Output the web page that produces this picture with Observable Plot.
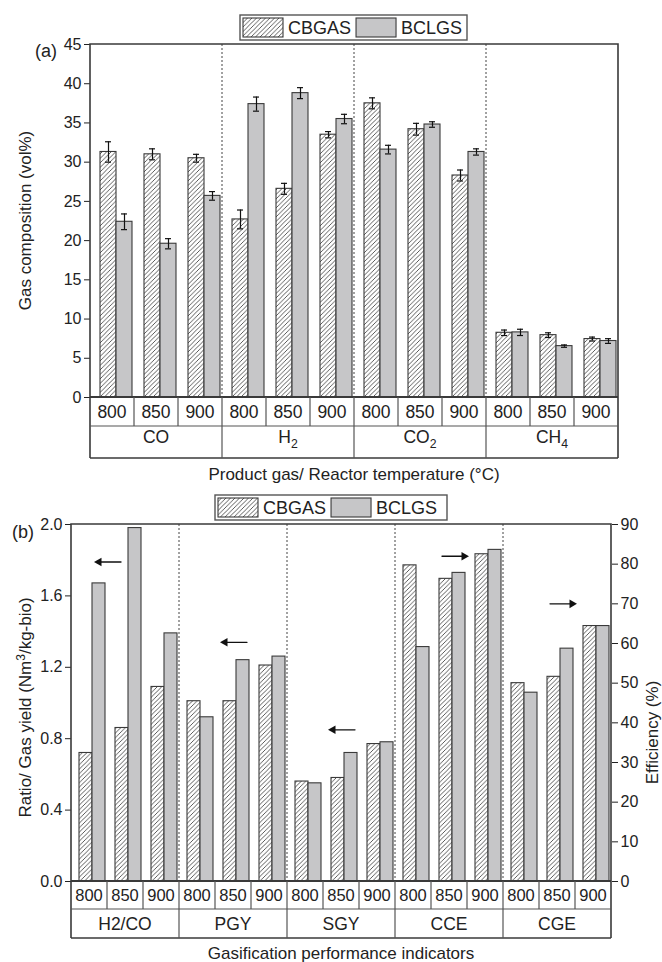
<!DOCTYPE html>
<html><head><meta charset="utf-8">
<script src="https://cdn.jsdelivr.net/npm/d3@7"></script>
<script src="https://cdn.jsdelivr.net/npm/@observablehq/plot@0.6"></script>
<style>
body{margin:0;background:#fff;font-family:"Liberation Sans",Arial,Helvetica,sans-serif;}
#root{position:relative;width:662px;height:962px;overflow:hidden;}
#root svg{display:block;overflow:visible;}
</style></head><body>
<svg width="0" height="0" style="position:absolute"><defs>
<pattern id="hatch" patternUnits="userSpaceOnUse" width="4.5" height="4.5">
<rect width="4.5" height="4.5" fill="#fff"/>
<path d="M-1,1 l2,-2 M0,4.5 l4.5,-4.5 M3.5,5.5 l2,-2" stroke="#333" stroke-width="0.8"/>
</pattern></defs></svg>
<div id="root"></div>
<script>
// ---------- data ----------
const series = ["CBGAS", "BCLGS"];
const temps = ["800", "850", "900"];

// Panel (a): gas composition (vol%)
const gasesA = ["CO", "H2", "CO2", "CH4"];
const cbgasA    = [31.3, 31.0, 30.5, 22.7, 26.6, 33.5, 37.5, 34.2, 28.3, 8.25, 7.95, 7.45];
const cbgasErrA = [1.3, 0.7, 0.5, 1.2, 0.7, 0.4, 0.7, 0.75, 0.7, 0.35, 0.3, 0.25];
const bclgsA    = [22.4, 19.6, 25.7, 37.4, 38.8, 35.5, 31.6, 34.8, 31.3, 8.3, 6.55, 7.2];
const bclgsErrA = [1.0, 0.65, 0.55, 0.9, 0.7, 0.6, 0.55, 0.35, 0.4, 0.4, 0.15, 0.3];
const yTicksA = [0, 5, 10, 15, 20, 25, 30, 35, 40, 45];

// Panel (b): gasification performance indicators
const indicatorsB = ["H2/CO", "PGY", "SGY", "CCE", "CGE"];
const indicatorAxisB = ["left", "left", "left", "right", "right"];
const cbgasB = [0.72, 0.86, 1.09, 1.01, 1.01, 1.21, 0.56, 0.58, 0.77, 79.7, 76.3, 82.5, 50.0, 51.6, 64.4];
const bclgsB = [1.67, 1.98, 1.39, 0.92, 1.24, 1.26, 0.55, 0.72, 0.78, 59.1, 77.8, 83.6, 47.6, 58.7, 64.4];
const leftTicksB = [0, 0.4, 0.8, 1.2, 1.6, 2.0];
const rightTicksB = [0, 10, 20, 30, 40, 50, 60, 70, 80, 90];
const rightMaxB = 90, leftMaxB = 2.0;
// arrows: which axis each group refers to
const arrowIndicators = ["H2/CO", "PGY", "SGY", "CCE", "CGE"];
const arrowTemps      = ["850", "850", "850", "850", "850"];
const arrowValues     = [1.79, 1.34, 0.85, 82, 70];
const arrowDirs       = ["left", "left", "left", "right", "right"];

// ---------- helpers ----------
const FONT = '"Liberation Sans", Arial, Helvetica, sans-serif';
const key = (g, t) => g + "|" + t;
const ratioB = rightMaxB / leftMaxB;

const cellsA = gasesA.flatMap(g => temps.map(t => key(g, t)));
const rowsA = [];
gasesA.forEach((g, gi) => temps.forEach((t, ti) => {
  const i = gi * 3 + ti;
  rowsA.push({cell: key(g, t), series: "CBGAS", value: cbgasA[i], err: cbgasErrA[i]});
  rowsA.push({cell: key(g, t), series: "BCLGS", value: bclgsA[i], err: bclgsErrA[i]});
}));

const cellsB = indicatorsB.flatMap(g => temps.map(t => key(g, t)));
const rowsB = [];
indicatorsB.forEach((g, gi) => temps.forEach((t, ti) => {
  const i = gi * 3 + ti;
  const s = indicatorAxisB[gi] === "right" ? 1 / ratioB : 1;
  rowsB.push({cell: key(g, t), series: "CBGAS", value: cbgasB[i] * s});
  rowsB.push({cell: key(g, t), series: "BCLGS", value: bclgsB[i] * s});
}));
const arrowsB = arrowIndicators.map((g, i) => ({
  cell: key(g, arrowTemps[i]),
  value: indicatorAxisB[indicatorsB.indexOf(g)] === "right" ? arrowValues[i] / ratioB : arrowValues[i],
  dir: arrowDirs[i], group: g
}));

const hasAxisMarks = typeof Plot.axisY === "function";
const root = document.getElementById("root");

function barMarks(rows) {
  return [
    Plot.barY(rows, {filter: d => d.series === "CBGAS", fx: "cell", x: "series", y: "value",
      fill: "url(#hatch)", stroke: "#3a3a3a", strokeWidth: 1.1}),
    Plot.barY(rows, {filter: d => d.series === "BCLGS", fx: "cell", x: "series", y: "value",
      fill: "#c6c6c8", stroke: "#3a3a3a", strokeWidth: 1.1})
  ];
}

function addLine(g, x1, y1, x2, y2, stroke, sw, dash) {
  const l = g.append("line").attr("x1", x1).attr("y1", y1).attr("x2", x2).attr("y2", y2)
    .attr("stroke", stroke).attr("stroke-width", sw);
  if (dash) l.attr("stroke-dasharray", dash);
  return l;
}

function addText(g, x, y, size, anchor) {
  return g.append("text").attr("x", x).attr("y", y).attr("text-anchor", anchor || "start")
    .attr("font-size", size).attr("font-family", FONT).attr("fill", "#222");
}

function addLabel(g, x, y, label, size, subscriptDigits) {
  const t = addText(g, x, y, size, "middle");
  if (!subscriptDigits) { t.text(label); return t; }
  const parts = label.match(/[A-Za-z]+|\d+/g);
  parts.forEach(p => {
    if (/^\d+$/.test(p)) t.append("tspan").attr("font-size", size * 0.7).attr("dy", 5).text(p);
    else t.append("tspan").attr("dy", t.selectAll("tspan").size() ? -5 : 0).text(p);
  });
  return t;
}

function decorate(svg, plot, groups, o) {
  const fx = plot.scale("fx"), y = plot.scale("y");
  const bw = fx.bandwidth;
  const y0 = y.apply(0), yTop = y.apply(o.yMax);
  const cells = groups.flatMap(g => temps.map(t => key(g, t)));
  const left = fx.apply(cells[0]), right = fx.apply(cells[cells.length - 1]) + bw;
  const r1 = y0 + o.row1, r2 = y0 + o.row2;
  const g = d3.select(svg).append("g");
  const lc = "#3a3a3a";
  groups.slice(1).forEach(gr => addLine(g, fx.apply(key(gr, temps[0])), yTop, fx.apply(key(gr, temps[0])), y0, "#444", 1, "2,2"));
  g.append("path").attr("d", `M${left},${r2}V${yTop}H${right}V${r2}`).attr("fill", "none")
    .attr("stroke", lc).attr("stroke-width", 1.6);
  addLine(g, left, y0, right, y0, lc, 1.8);
  addLine(g, left, r1, right, r1, "#555", 1.2);
  addLine(g, left, r2, right, r2, lc, 1.5);
  cells.forEach((c, i) => {
    const x = fx.apply(c);
    if (i > 0) addLine(g, x, y0, x, (i % 3 === 0) ? r2 : r1, "#555", 1.2);
    addLabel(g, x + bw / 2, y0 + o.row1 / 2 + o.tempSize * 0.36, c.split("|")[1], o.tempSize, false);
  });
  groups.forEach(gr => {
    const x1 = fx.apply(key(gr, temps[0])), x2 = fx.apply(key(gr, temps[2])) + bw;
    addLabel(g, (x1 + x2) / 2, r1 + (o.row2 - o.row1) / 2 + o.groupSize * 0.36, gr, o.groupSize, o.subscript);
  });
  return {g, left, right, y0, yTop, r2};
}

function drawLegend(g, x, y, w, h, fs) {
  g.append("rect").attr("x", x).attr("y", y).attr("width", w).attr("height", h)
    .attr("fill", "#fff").attr("stroke", "#555").attr("stroke-width", 1.4);
  const sw = 40, sh = h - 6;
  const items = [{name: "CBGAS", fill: "url(#hatch)"}, {name: "BCLGS", fill: "#c6c6c8"}];
  let cx = x + 3;
  items.forEach(it => {
    g.append("rect").attr("x", cx).attr("y", y + 3).attr("width", sw).attr("height", sh)
      .attr("fill", it.fill).attr("stroke", "#3a3a3a").attr("stroke-width", 1.1);
    const t = addText(g, cx + sw + 5, y + h / 2 + fs * 0.36, fs, "start").text(it.name);
    cx += sw + 5 + t.node().getComputedTextLength() + 5;
  });
}

// ---------- Panel (a) ----------
const styleBase = {fontFamily: FONT, fontSize: "16px", color: "#222", background: "white", overflow: "visible"};
const marksA = [
  ...barMarks(rowsA),
  Plot.ruleX(rowsA, {fx: "cell", x: "series", y1: d => d.value - d.err, y2: d => d.value + d.err, stroke: "#111", strokeWidth: 1.2}),
  Plot.tickY(rowsA, {fx: "cell", x: "series", y: d => d.value + d.err, stroke: "#111", strokeWidth: 1.2, insetLeft: 5, insetRight: 5}),
  Plot.tickY(rowsA, {fx: "cell", x: "series", y: d => d.value - d.err, stroke: "#111", strokeWidth: 1.2, insetLeft: 5, insetRight: 5})
];
if (hasAxisMarks) marksA.push(Plot.axisY(yTicksA, {anchor: "left", tickSize: 6, tickPadding: 3, label: null, tickFormat: d => d}));
const plotA = Plot.plot({
  width: 662, height: 490,
  marginLeft: 88, marginRight: 42, marginTop: 44, marginBottom: 93,
  style: styleBase,
  fx: {domain: cellsA, padding: 0, axis: null, label: null},
  x: {domain: series, paddingInner: 0, paddingOuter: 0.3, align: 0.8, axis: null},
  y: {domain: [0, 45], label: null, ...(hasAxisMarks ? {} : {ticks: yTicksA, tickFormat: d => d})},
  marks: marksA
});
root.appendChild(plotA);
const dA = decorate(plotA, plotA, gasesA, {yMax: 45, row1: 29, row2: 61, tempSize: 17.5, groupSize: 17.5, subscript: true});
const gA = d3.select(plotA).append("g");
drawLegend(gA, 240, 15, 227, 25, 18);
addText(gA, 35, 57, 18, "start").text("(a)");
gA.append("text").attr("transform", `translate(31,${(dA.y0 + dA.yTop) / 2}) rotate(-90)`).attr("text-anchor", "middle")
  .attr("font-size", 17).attr("font-family", FONT).attr("fill", "#222").text("Gas composition (vol%)");
addText(gA, (dA.left + dA.right) / 2, 480, 17, "middle").text("Product gas/ Reactor temperature (°C)");

// ---------- Panel (b) ----------
const arrowLine = (data, dx) => Plot.arrow(data, {fx: "cell",
  x1: d => d.dir === "left" ? "BCLGS" : "CBGAS", x2: d => d.dir === "left" ? "CBGAS" : "BCLGS",
  y1: "value", y2: "value", stroke: "#111", strokeWidth: 1.3, headLength: 0, insetStart: -4, insetEnd: -3, dx});
const arrowHeadL = (data, dx) => Plot.dot(data, {filter: d => d.dir === "left", fx: "cell", x: () => "CBGAS", y: "value",
  symbol: "triangle", r: 3.2, fill: "#111", stroke: "none", rotate: -90, dx: dx - 5});
const arrowHeadR = (data, dx) => Plot.dot(data, {filter: d => d.dir === "right", fx: "cell", x: () => "BCLGS", y: "value",
  symbol: "triangle", r: 3.2, fill: "#111", stroke: "none", rotate: 90, dx: dx + 5});
const firstArrow = arrowsB.filter(d => d.group === indicatorsB[0]);
const otherArrows = arrowsB.filter(d => d.group !== indicatorsB[0]);
const marksB = [
  ...barMarks(rowsB),
  arrowLine(firstArrow, -18), arrowHeadL(firstArrow, -18),
  arrowLine(otherArrows, 0), arrowHeadL(otherArrows, 0), arrowHeadR(otherArrows, 0)
];
if (hasAxisMarks) {
  marksB.push(Plot.axisY(leftTicksB, {anchor: "left", tickSize: 6, tickPadding: 3, label: null, tickFormat: d3.format(".1f")}));
  marksB.push(Plot.axisY(rightTicksB.map(v => v / ratioB), {anchor: "right", tickSize: 6, tickPadding: 3, label: null, tickFormat: d => Math.round(d * ratioB)}));
}
const plotB = Plot.plot({
  width: 662, height: 472,
  marginLeft: 68, marginRight: 49, marginTop: 34, marginBottom: 81,
  style: styleBase,
  fx: {domain: cellsB, padding: 0, axis: null, label: null},
  x: {domain: series, paddingInner: 0, paddingOuter: 0.345, align: 0.75, axis: null},
  y: {domain: [0, leftMaxB], label: null, ...(hasAxisMarks ? {} : {ticks: leftTicksB, tickFormat: d3.format(".1f")})},
  marks: marksB
});
root.appendChild(plotB);
const dB = decorate(plotB, plotB, indicatorsB, {yMax: leftMaxB, row1: 28, row2: 57, tempSize: 16.5, groupSize: 17.5, subscript: false});
const gB = d3.select(plotB).append("g");
if (!hasAxisMarks) {
  const ys = plotB.scale("y");
  rightTicksB.forEach(v => {
    const yy = ys.apply(v / ratioB);
    addLine(gB, dB.right, yy, dB.right + 6, yy, "#3a3a3a", 1);
    addText(gB, dB.right + 9, yy + 5.5, 16, "start").text(v);
  });
}
drawLegend(gB, 215, 5, 232, 25, 18);
addText(gB, 12, 48, 18, "start").text("(b)");
const tl = gB.append("text").attr("transform", `translate(31,${(dB.y0 + dB.yTop) / 2 + 5}) rotate(-90)`).attr("text-anchor", "middle")
  .attr("font-size", 17).attr("font-family", FONT).attr("fill", "#222");
tl.append("tspan").text("Ratio/ Gas yield (Nm");
tl.append("tspan").attr("font-size", 12).attr("dy", -6).text("3");
tl.append("tspan").attr("dy", 6).text("/kg-bio)");
gB.append("text").attr("transform", `translate(658,${(dB.y0 + dB.yTop) / 2 + 30}) rotate(-90)`).attr("text-anchor", "middle")
  .attr("font-size", 17).attr("font-family", FONT).attr("fill", "#222").text("Efficiency (%)");
addText(gB, (dB.left + dB.right) / 2, 469, 17, "middle").text("Gasification performance indicators");
</script>
</body></html>
